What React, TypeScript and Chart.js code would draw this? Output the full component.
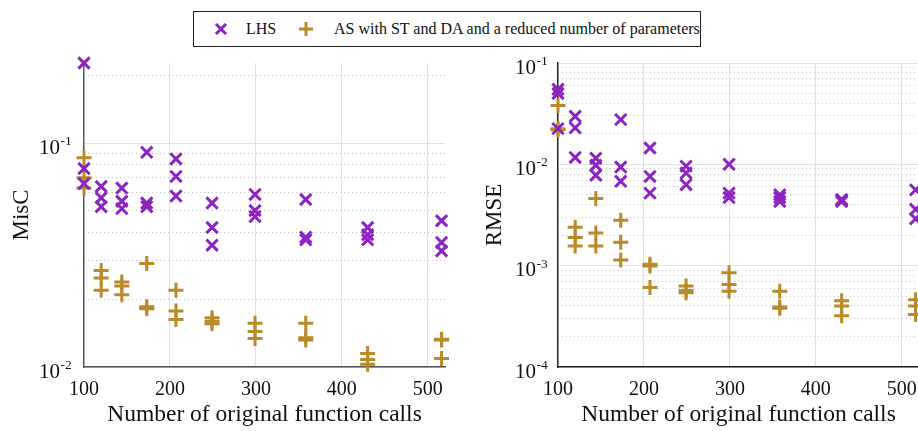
import React, { useEffect, useRef } from "react";
import { Chart, registerables } from "chart.js";

Chart.register(...registerables);

// ---------- data ----------
const xCalls = [100, 120, 144, 173, 207, 249, 299, 358, 430, 516];

const miscLHS = [
  [0.228, 0.077, 0.066],
  [0.064, 0.057, 0.052],
  [0.063, 0.055, 0.051],
  [0.091, 0.054, 0.052],
  [0.085, 0.071, 0.058],
  [0.054, 0.042, 0.035],
  [0.059, 0.05, 0.047],
  [0.056, 0.038, 0.037],
  [0.042, 0.039, 0.037],
  [0.045, 0.036, 0.033],
];

const miscAS = [
  [0.086, 0.07, 0.063],
  [0.027, 0.025, 0.022],
  [0.024, 0.023, 0.021],
  [0.029, 0.0186, 0.0182],
  [0.022, 0.0178, 0.0163],
  [0.0166, 0.016, 0.0156],
  [0.0157, 0.0144, 0.0134],
  [0.0157, 0.0135, 0.0132],
  [0.0115, 0.0108, 0.0103],
  [0.0133, 0.0132, 0.0109],
];

const rmseLHS = [
  [0.055, 0.05, 0.0225],
  [0.0298, 0.0229, 0.0117],
  [0.0115, 0.0098, 0.0078],
  [0.0276, 0.0094, 0.0068],
  [0.0145, 0.0076, 0.0052],
  [0.0096, 0.0082, 0.0063],
  [0.01, 0.0052, 0.0047],
  [0.005, 0.0047, 0.0043],
  [0.0045, 0.0044, 0.0043],
  [0.0056, 0.0036, 0.0029],
];

const rmseAS = [
  [0.038, 0.0225, 0.022],
  [0.0024, 0.0019, 0.00156],
  [0.0046, 0.0021, 0.00156],
  [0.0028, 0.0017, 0.00114],
  [0.00103, 0.00099, 0.00061],
  [0.00063, 0.00057, 0.00054],
  [0.00085, 0.00065, 0.00056],
  [0.00056, 0.00039, 0.00038],
  [0.00045, 0.0004, 0.00032],
  [0.00046, 0.0004, 0.00033],
];

const xTicks = [100, 200, 300, 400, 500];
const miscMajor = [0.01, 0.1];
const miscMinor = [0.02, 0.03, 0.04, 0.05, 0.06, 0.07, 0.08, 0.09, 0.2];
const rmseMajor = [0.0001, 0.001, 0.01, 0.1];
const rmseMinor = [
  0.0002, 0.0003, 0.0004, 0.0005, 0.0006, 0.0007, 0.0008, 0.0009,
  0.002, 0.003, 0.004, 0.005, 0.006, 0.007, 0.008, 0.009,
  0.02, 0.03, 0.04, 0.05, 0.06, 0.07, 0.08, 0.09,
];

const legendLabels = ["LHS", "AS with ST and DA and a reduced number of parameters"];
const seriesColors = ["#8C25BF", "#B98A2A"];

// ---------- helpers ----------
const FONT = "'Liberation Serif', 'Times New Roman', Times, serif";

function toPoints(xs: number[], rows: number[][]) {
  const pts: { x: number; y: number }[] = [];
  rows.forEach((row, i) => row.forEach((y) => pts.push({ x: xs[i], y })));
  return pts;
}

type PanelCfg = {
  lhs: number[][];
  as: number[][];
  yMin: number;
  yMax: number;
  major: number[];
  minor: number[];
  yTitle: string;
  yWidth: number;
  yTitlePad: number;
  yTickPad: number;
  right: number;
  axisColor: string;
};

// draws the exponent of each "10" tick label as a raised, smaller text
const exponentPlugin = {
  id: "exponentLabels",
  afterDraw(chart: any) {
    const s = chart.scales.y;
    const pad = s.options.ticks.padding;
    const ctx = chart.ctx;
    ctx.save();
    ctx.font = `13.5px ${FONT}`;
    ctx.fillStyle = "#111";
    ctx.textAlign = "left";
    ctx.textBaseline = "alphabetic";
    s.ticks.forEach((t: any) => {
      const e = Math.round(Math.log10(t.value));
      const y = s.getPixelForValue(t.value);
      ctx.fillText(String(e), s.right - pad + 0.5, y + 2);
    });
    ctx.restore();
  },
};

function buildConfig(c: PanelCfg): any {
  return {
    type: "scatter",
    data: {
      datasets: [
        {
          label: legendLabels[0],
          data: toPoints(xCalls, c.lhs),
          pointStyle: "crossRot",
          pointRadius: 8,
          pointHoverRadius: 8,
          pointBorderWidth: 3,
          borderColor: seriesColors[0],
          backgroundColor: seriesColors[0],
          showLine: false,
          clip: false,
        },
        {
          label: legendLabels[1],
          data: toPoints(xCalls, c.as),
          pointStyle: "cross",
          pointRadius: 7.5,
          pointHoverRadius: 7.5,
          pointBorderWidth: 3,
          borderColor: seriesColors[1],
          backgroundColor: seriesColors[1],
          showLine: false,
          clip: false,
        },
      ],
    },
    options: {
      animation: false,
      responsive: false,
      maintainAspectRatio: false,
      events: [],
      layout: { padding: { top: 63, right: c.right, bottom: 0, left: 0 } },
      plugins: { legend: { display: false }, tooltip: { enabled: false } },
      scales: {
        x: {
          type: "linear",
          position: "bottom",
          min: 100,
          max: 520,
          afterBuildTicks: (s: any) => {
            s.ticks = xTicks.map((v) => ({ value: v }));
          },
          ticks: {
            color: "#111",
            font: { family: FONT, size: 20 },
            padding: 11,
            maxRotation: 0,
            autoSkip: false,
            callback: (v: any) => String(v),
          },
          grid: {
            color: (ctx: any) => (ctx.tick && ctx.tick.value === 100 ? "rgba(0,0,0,0)" : "#e1e1e1"),
            lineWidth: 1,
            drawTicks: false,
          },
          border: { color: c.axisColor, width: 1.5 },
          title: {
            display: true,
            text: "Number of original function calls",
            color: "#111",
            font: { family: FONT, size: 23.5 },
            padding: { top: 0, bottom: 2 },
          },
          afterFit: (s: any) => {
            s.height = 64;
          },
        },
        y: {
          type: "logarithmic",
          position: "left",
          min: c.yMin,
          max: c.yMax,
          afterBuildTicks: (s: any) => {
            s.ticks = c.major.map((v) => ({ value: v }));
          },
          ticks: {
            color: "#111",
            font: { family: FONT, size: 21 },
            padding: c.yTickPad,
            labelOffset: 5,
            autoSkip: false,
            callback: () => "10",
          },
          grid: { color: "#e1e1e1", lineWidth: 1, drawTicks: false },
          border: { color: c.axisColor, width: 1.5 },
          title: {
            display: true,
            text: c.yTitle,
            color: "#111",
            font: { family: FONT, size: 23 },
            padding: { top: c.yTitlePad, bottom: 0 },
          },
          afterFit: (s: any) => {
            s.width = c.yWidth;
          },
        },
        yMinor: {
          type: "logarithmic",
          position: "left",
          min: c.yMin,
          max: c.yMax,
          afterBuildTicks: (s: any) => {
            s.ticks = c.minor.map((v) => ({ value: v }));
          },
          ticks: { display: false },
          grid: { color: "#c4c4c4", lineWidth: 1, drawTicks: false },
          border: { display: false, dash: [1, 3] },
          afterFit: (s: any) => {
            s.width = 0;
          },
        },
      },
    },
    plugins: [exponentPlugin],
  };
}

function Panel(props: { cfg: PanelCfg; left: number; width: number }) {
  const ref = useRef<HTMLCanvasElement | null>(null);
  useEffect(() => {
    if (!ref.current) return;
    const chart = new Chart(ref.current, buildConfig(props.cfg));
    return () => chart.destroy();
  }, []);
  return (
    <canvas
      ref={ref}
      width={props.width}
      height={431}
      style={{ position: "absolute", left: props.left, top: 0, width: props.width, height: 431 }}
    />
  );
}

function Legend() {
  return (
    <div
      style={{
        position: "absolute",
        left: 193,
        top: 11,
        width: 506,
        height: 34,
        border: "1px solid #222",
        background: "#fff",
        fontFamily: FONT,
        fontSize: 16,
        color: "#111",
        zIndex: 2,
      }}
    >
      <svg width={16} height={16} style={{ position: "absolute", left: 19, top: 9 }}>
        <path d="M3 3 L13 13 M13 3 L3 13" stroke={seriesColors[0]} strokeWidth={3} />
      </svg>
      <span style={{ position: "absolute", left: 52, top: 7, lineHeight: "20px", whiteSpace: "nowrap" }}>
        {legendLabels[0]}
      </span>
      <svg width={18} height={18} style={{ position: "absolute", left: 103, top: 8 }}>
        <path d="M9 2 L9 16 M2 9 L16 9" stroke={seriesColors[1]} strokeWidth={3} />
      </svg>
      <span style={{ position: "absolute", left: 140, top: 7, lineHeight: "20px", whiteSpace: "nowrap" }}>
        {legendLabels[1]}
      </span>
    </div>
  );
}

const leftCfg: PanelCfg = {
  lhs: miscLHS,
  as: miscAS,
  yMin: 0.01,
  yMax: 0.228,
  major: miscMajor,
  minor: miscMinor,
  yTitle: "MisC",
  yWidth: 84,
  yTitlePad: 8,
  yTickPad: 24,
  right: 15,
  axisColor: "#555",
};

const rightCfg: PanelCfg = {
  lhs: rmseLHS,
  as: rmseAS,
  yMin: 0.0001,
  yMax: 0.1,
  major: rmseMajor,
  minor: rmseMinor,
  yTitle: "RMSE",
  yWidth: 98,
  yTitlePad: 21,
  yTickPad: 22,
  right: 11,
  axisColor: "#222",
};

export default function App() {
  return (
    <div
      style={{
        position: "fixed",
        left: 0,
        top: 0,
        width: 918,
        height: 431,
        overflow: "hidden",
        background: "#fff",
      }}
    >
      <Panel cfg={leftCfg} left={0} width={460} />
      <Panel cfg={rightCfg} left={460} width={470} />
      <Legend />
    </div>
  );
}
